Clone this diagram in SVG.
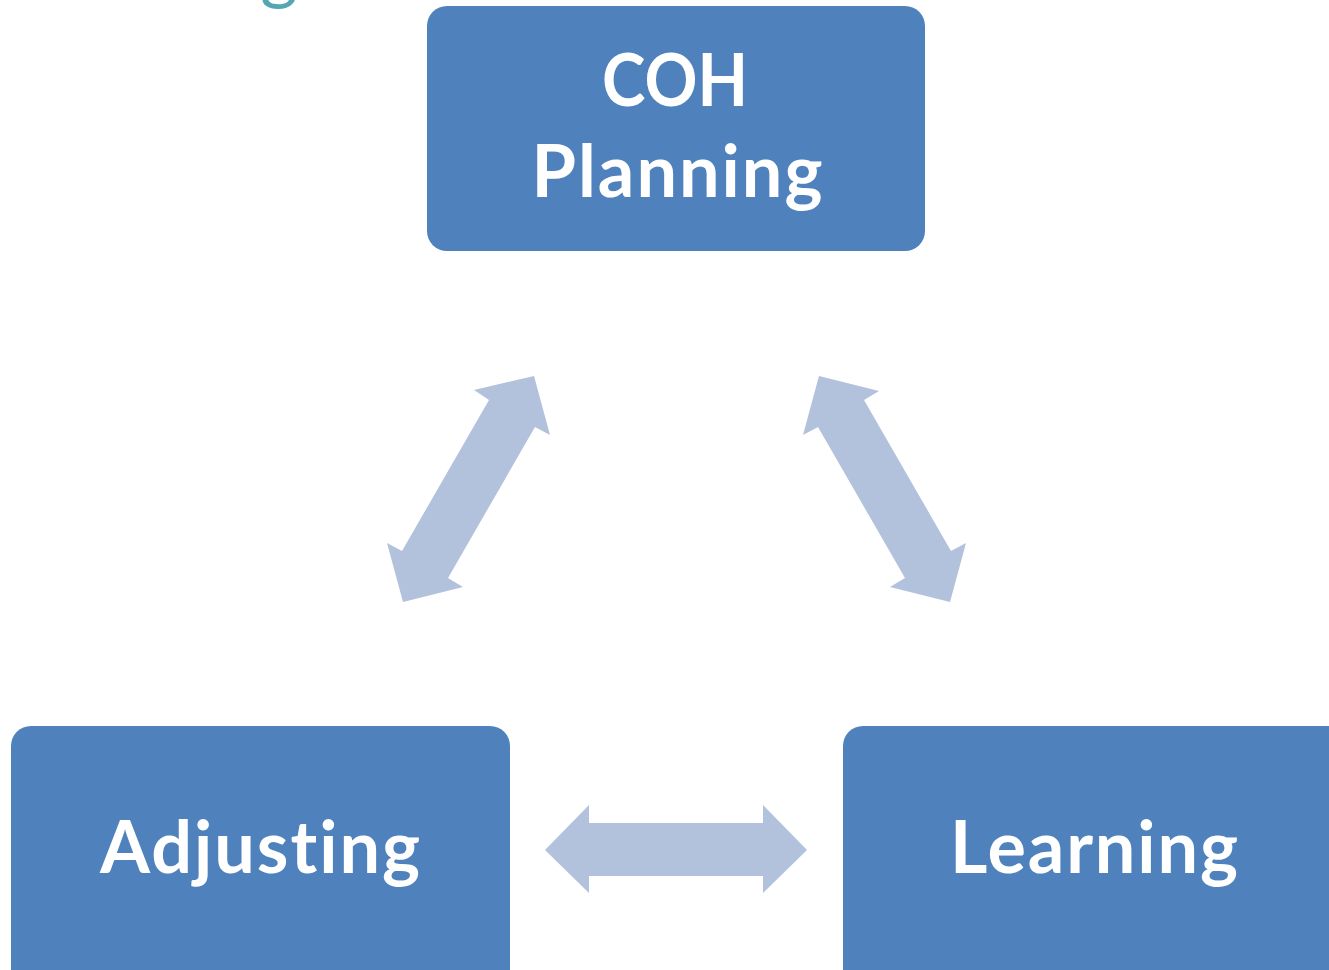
<svg xmlns="http://www.w3.org/2000/svg" width="1329" height="970" viewBox="0 0 1329 970">
<style>
.box{fill:#4F81BD;}
.lbl{fill:#FFFFFF;font-family:Lato,"Open Sans","Liberation Sans",sans-serif;font-weight:bold;font-size:72px;text-anchor:middle;font-variant-ligatures:none;font-feature-settings:"liga" 0;}
.arr{fill:#B2C1DC;}
</style>
<rect width="1329" height="970" fill="#FFFFFF"/>
<text x="279" y="-4" fill="#55A6B3" font-family="Lato,'Open Sans',sans-serif" font-size="72" text-anchor="middle">g</text>
<g id="connectors">
<polygon class="arr" points="474,390 534,376 550,435 535,427 448,578 463,587 403,602 387,543 402,551 489,400"/>
<polygon class="arr" points="879,391 819,376 803,435 818,427 905,578 890,587 950,602 966,543 951,551 864,400"/>
<polygon class="arr" points="545,850 589,805 589,823 763,823 763,805 807,850 763,893 763,876 589,876 589,893"/>
</g>
<g id="node-planning">
<rect class="box" x="427" y="6" width="498" height="245" rx="20"/>
<text class="lbl" x="675" y="106" textLength="146" lengthAdjust="spacingAndGlyphs">COH</text>
<text class="lbl" x="677" y="197" textLength="291" lengthAdjust="spacing">Planning</text>
</g>
<g id="node-adjusting">
<rect class="box" x="11" y="726" width="499" height="264" rx="20"/>
<text class="lbl" x="260" y="873" textLength="320" lengthAdjust="spacing">Adjusting</text>
</g>
<g id="node-learning">
<rect class="box" x="843" y="726" width="520" height="264" rx="20"/>
<text class="lbl" x="1094" y="873" textLength="288" lengthAdjust="spacing">Learning</text>
</g>
</svg>
